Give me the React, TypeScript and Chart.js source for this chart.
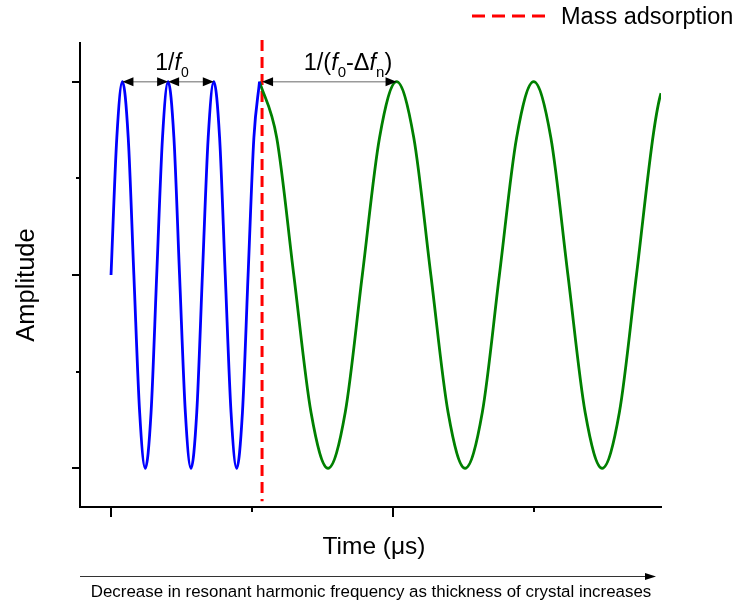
import React, { useEffect, useRef } from "react";
import { Chart, registerables } from "chart.js";

Chart.register(...registerables);

// Resonator signal before mass loading (blue): eighth-cycle samples
const BLUE_X = [
  0, 0.041, 0.081, 0.122, 0.162, 0.203, 0.243, 0.284, 0.324, 0.365, 0.405, 0.446, 0.486,
  0.527, 0.567, 0.608, 0.648, 0.689, 0.729, 0.77, 0.81, 0.851, 0.891, 0.932, 0.972, 1.013, 1.053,
];
const BLUE_Y = [
  0, 0.71, 1, 0.71, 0, -0.71, -1, -0.71, 0, 0.71, 1, 0.71, 0, -0.71, -1, -0.71, 0, 0.71, 1,
  0.71, 0, -0.71, -1, -0.71, 0, 0.71, 1,
];

// Signal after mass adsorption (green): lower frequency
const GREEN_X = [
  1.053, 1.175, 1.296, 1.418, 1.539, 1.661, 1.782, 1.904, 2.025, 2.147, 2.268, 2.39, 2.511,
  2.633, 2.754, 2.876, 2.997, 3.119, 3.24, 3.362, 3.483, 3.605, 3.726, 3.848, 3.9, 3.969,
];
const GREEN_Y = [
  1, 0.71, 0, -0.71, -1, -0.71, 0, 0.71, 1, 0.71, 0, -0.71, -1, -0.71, 0, 0.71, 1, 0.71, 0,
  -0.71, -1, -0.71, 0, 0.74, 0.94, 1,
];

// Moment of mass adsorption
const EVENT_X = [1.071, 1.071];
const EVENT_Y = [1.215, -1.17];

// Period markers (pairs of peak times)
const F0_SPANS = [
  [0.081, 0.405],
  [0.405, 0.729],
];
const SHIFTED_SPAN = [1.071, 2.025];

// Axis ticks
const X_MAJOR = [0, 2];
const X_MINOR = [1, 3];
const Y_MAJOR = [-1, 0, 1];
const Y_MINOR = [-0.5, 0.5];

const LEGEND_LABEL = "Mass adsorption";
const X_TITLE = "Time (\u03bcs)";
const Y_TITLE = "Amplitude";
const FOOTNOTE = "Decrease in resonant harmonic frequency as thickness of crystal increases";

const FONT = '"Liberation Sans", Arial, Helvetica, sans-serif';

type Part = { t: string; italic?: boolean; sub?: boolean };

function drawRich(ctx: CanvasRenderingContext2D, parts: Part[], x: number, y: number, size: number) {
  let cx = x;
  for (const p of parts) {
    const s = p.sub ? Math.round(size * 0.62) : size;
    ctx.font = `${p.italic ? "italic " : ""}${s}px ${FONT}`;
    ctx.fillText(p.t, cx, p.sub ? y + 7 : y);
    cx += ctx.measureText(p.t).width;
  }
}

function richWidth(ctx: CanvasRenderingContext2D, parts: Part[], size: number) {
  let w = 0;
  for (const p of parts) {
    const s = p.sub ? Math.round(size * 0.62) : size;
    ctx.font = `${p.italic ? "italic " : ""}${s}px ${FONT}`;
    w += ctx.measureText(p.t).width;
  }
  return w;
}

function arrowHead(ctx: CanvasRenderingContext2D, tipX: number, y: number, dir: number, len: number, half: number) {
  ctx.beginPath();
  ctx.moveTo(tipX, y);
  ctx.lineTo(tipX - dir * len, y - half);
  ctx.lineTo(tipX - dir * len, y + half);
  ctx.closePath();
  ctx.fill();
}

function spanArrow(ctx: CanvasRenderingContext2D, x1: number, x2: number, y: number) {
  ctx.save();
  ctx.strokeStyle = "#9a9a9a";
  ctx.lineWidth = 1.5;
  ctx.beginPath();
  ctx.moveTo(x1 + 4, y);
  ctx.lineTo(x2 - 4, y);
  ctx.stroke();
  ctx.fillStyle = "#000";
  arrowHead(ctx, x1, y, -1, 11, 4.5);
  arrowHead(ctx, x2, y, 1, 11, 4.5);
  ctx.restore();
}

const decorations = {
  id: "decorations",
  afterDraw(chart: any) {
    const ctx: CanvasRenderingContext2D = chart.ctx;
    const xs = chart.scales.x;
    const ys = chart.scales.y;
    const area = chart.chartArea;

    ctx.save();
    // tick marks
    ctx.strokeStyle = "#000";
    ctx.lineWidth = 2;
    const tick = (x1: number, y1: number, x2: number, y2: number) => {
      ctx.beginPath();
      ctx.moveTo(x1, y1);
      ctx.lineTo(x2, y2);
      ctx.stroke();
    };
    X_MAJOR.forEach((v) => {
      const px = Math.round(xs.getPixelForValue(v));
      tick(px, area.bottom, px, area.bottom + 10);
    });
    X_MINOR.forEach((v) => {
      const px = Math.round(xs.getPixelForValue(v));
      tick(px, area.bottom, px, area.bottom + 5);
    });
    Y_MAJOR.forEach((v) => {
      const py = Math.round(ys.getPixelForValue(v));
      tick(area.left, py, area.left - 8, py);
    });
    Y_MINOR.forEach((v) => {
      const py = Math.round(ys.getPixelForValue(v));
      tick(area.left, py, area.left - 4, py);
    });

    // period arrows
    const peakY = ys.getPixelForValue(1);
    F0_SPANS.forEach(([a, b]) => spanArrow(ctx, xs.getPixelForValue(a), xs.getPixelForValue(b), peakY));
    spanArrow(ctx, xs.getPixelForValue(SHIFTED_SPAN[0]), xs.getPixelForValue(SHIFTED_SPAN[1]), peakY);

    // period labels
    ctx.fillStyle = "#000";
    ctx.textAlign = "left";
    ctx.textBaseline = "alphabetic";
    const f0Parts: Part[] = [{ t: "1/" }, { t: "f", italic: true }, { t: "0", sub: true }];
    const f0w = richWidth(ctx, f0Parts, 23);
    drawRich(ctx, f0Parts, 172 - f0w / 2, 70, 23);
    const shiftParts: Part[] = [
      { t: "1/(" },
      { t: "f", italic: true },
      { t: "0", sub: true },
      { t: "-\u0394" },
      { t: "f", italic: true },
      { t: "n", sub: true },
      { t: ")" },
    ];
    const sw = richWidth(ctx, shiftParts, 23.5);
    drawRich(ctx, shiftParts, 348 - sw / 2, 70, 23.5);

    // legend
    ctx.strokeStyle = "#ff0000";
    ctx.lineWidth = 3;
    ctx.setLineDash([13, 7]);
    ctx.beginPath();
    ctx.moveTo(472, 16);
    ctx.lineTo(550, 16);
    ctx.stroke();
    ctx.setLineDash([]);
    ctx.font = `23.5px ${FONT}`;
    ctx.fillText(LEGEND_LABEL, 561, 24);

    // axis titles
    ctx.textAlign = "center";
    ctx.font = `24.5px ${FONT}`;
    ctx.fillText(X_TITLE, 374, 554);
    ctx.save();
    ctx.translate(34, 285);
    ctx.rotate(-Math.PI / 2);
    ctx.font = `25.5px ${FONT}`;
    ctx.fillText(Y_TITLE, 0, 0);
    ctx.restore();

    // footnote arrow
    ctx.strokeStyle = "#333";
    ctx.lineWidth = 1;
    ctx.beginPath();
    ctx.moveTo(80, 576.5);
    ctx.lineTo(646, 576.5);
    ctx.stroke();
    ctx.fillStyle = "#000";
    arrowHead(ctx, 656, 576.5, 1, 11, 3.5);
    ctx.font = `16.9px ${FONT}`;
    ctx.fillText(FOOTNOTE, 371, 597);
    ctx.restore();
  },
};

export default function App() {
  const ref = useRef<HTMLCanvasElement | null>(null);

  useEffect(() => {
    if (!ref.current) return;
    const toPoints = (xs: number[], ys: number[]) => xs.map((x, i) => ({ x, y: ys[i] }));
    const chart = new Chart(ref.current, {
      type: "line",
      data: {
        datasets: [
          {
            label: "before",
            data: toPoints(BLUE_X, BLUE_Y),
            borderColor: "#0000ff",
            borderWidth: 2.8,
            pointRadius: 0,
            cubicInterpolationMode: "monotone",
          },
          {
            label: "after",
            data: toPoints(GREEN_X, GREEN_Y),
            borderColor: "#008000",
            borderWidth: 2.8,
            pointRadius: 0,
            cubicInterpolationMode: "monotone",
          },
          {
            label: LEGEND_LABEL,
            data: toPoints(EVENT_X, EVENT_Y),
            borderColor: "#ff0000",
            borderWidth: 3,
            borderDash: [11, 6],
            pointRadius: 0,
            clip: false,
          } as any,
        ],
      },
      options: {
        responsive: false,
        animation: false,
        events: [],
        layout: { padding: { left: 80, right: 80, top: 43, bottom: 100 } },
        plugins: { legend: { display: false }, tooltip: { enabled: false } },
        scales: {
          x: {
            type: "linear",
            min: -0.22,
            max: 3.9,
            ticks: { display: false },
            grid: { display: false, drawTicks: false },
            border: { display: true, color: "#000", width: 2 },
          },
          y: {
            type: "linear",
            min: -1.2,
            max: 1.2,
            ticks: { display: false },
            grid: { display: false, drawTicks: false },
            border: { display: true, color: "#000", width: 2 },
          },
        },
      },
      plugins: [decorations],
    });
    return () => chart.destroy();
  }, []);

  return (
    <div style={{ position: "absolute", left: 0, top: 0, width: 741, height: 607, background: "#fff" }}>
      <canvas ref={ref} width={741} height={607} style={{ width: 741, height: 607 }} />
    </div>
  );
}
